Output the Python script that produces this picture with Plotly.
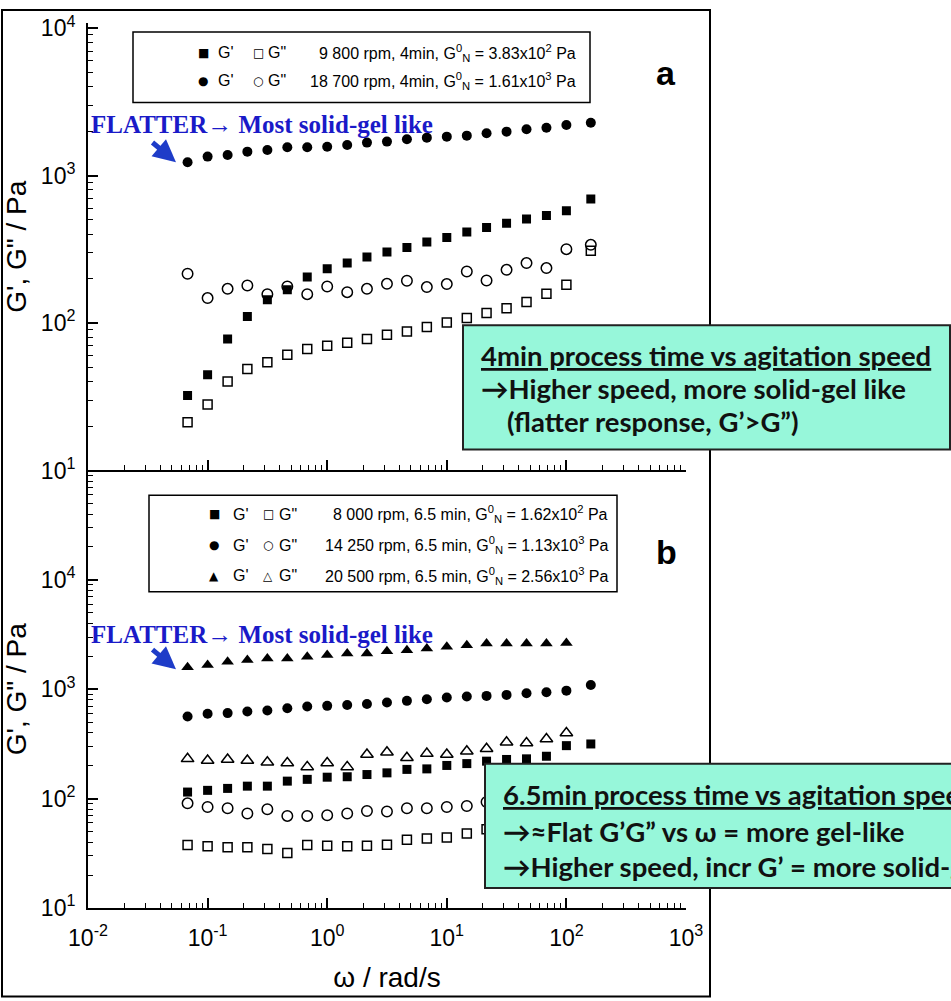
import plotly.graph_objects as go

# Angular frequency of the sweep (rad/s)
omega = [0.068, 0.1, 0.147, 0.215, 0.316, 0.464, 0.681, 1.0, 1.47, 2.15, 3.16,
         4.64, 6.81, 10.0, 14.7, 21.5, 31.6, 46.4, 68.1, 100.0, 160.0]

# (a) 4 min process time
a_9800_Gp = [32.3, 44.6, 77.9, 110.8, 143.9, 168, 205, 233, 255, 280, 303,
             325, 354, 380, 414, 444, 476, 507, 536, 577, 695]
a_9800_Gpp = [21.2, 28.0, 40.2, 48.8, 54.1, 61.0, 66.6, 70.2, 73.5, 77.9, 83.3,
              87.7, 94.0, 101, 108, 117, 126, 139, 158, 182, 309]
a_18700_Gp = [1233, 1345, 1381, 1454, 1493, 1557, 1557, 1571, 1614, 1674, 1700,
              1765, 1809, 1837, 1866, 1937, 1986, 2062, 2113, 2206, 2285]
a_18700_Gpp = [216, 147.6, 170.6, 179.7, 157, 177, 157, 177, 162, 170.6, 184.5,
               193.5, 175.4, 183.8, 223.7, 194.4, 229.6, 255, 235.8, 317, 339]

# (b) 6.5 min process time
b_8000_Gp = [114.8, 119, 124, 130, 130, 144.5, 150, 157, 158.5, 166, 172,
             185, 187, 201, 209, 220, 228, 231, 244, 305, 316]
b_8000_Gpp = [37.6, 36.6, 35.9, 35.9, 34.6, 31.8, 37.6, 37.1, 36.6, 37.1, 37.8,
              42.0, 43.3, 44.2, 48.1, 52.6]
b_14250_Gp = [564, 596, 605, 626, 639, 671, 695, 705, 719, 734, 755,
              783, 811, 839, 857, 869, 888, 920, 940, 971, 1094]
b_14250_Gpp = [90.6, 83.9, 81.6, 73.1, 79.9, 69.5, 69.5, 70.5, 73.1, 77.1, 76.2,
               81.6, 81.6, 83.9, 85.6, 93.1]
b_20500_Gp = [1585, 1663, 1782, 1846, 1914, 1914, 1979, 2051, 2125, 2125, 2228,
              2275, 2358, 2440, 2529, 2620, 2620, 2620, 2620, 2653]
b_20500_Gpp = [231, 223, 228, 223, 215, 212, 195, 212, 195, 253, 265,
               236, 258, 253, 271, 286, 327, 323, 351, 398]

x_ticks = [0.01, 0.1, 1, 10, 100, 1000]
x_ticktext = ["10<sup>-2</sup>", "10<sup>-1</sup>", "10<sup>0</sup>",
              "10<sup>1</sup>", "10<sup>2</sup>", "10<sup>3</sup>"]
y_ticks = [10, 100, 1000, 10000]
y_ticktext = ["10<sup>1</sup>", "10<sup>2</sup>", "10<sup>3</sup>", "10<sup>4</sup>"]

# pixel geometry of the plotting area
W, H = 951, 1001
L, R, T, B = 88, 686, 18, 908
SPLIT = 468


def px(x):
    return (x - L) / (R - L)


def py(y):
    return (B - y) / (B - T)


def minor_vals(lo, hi):
    vals = []
    for e in range(lo, hi):
        for m in range(2, 10):
            vals.append(m * 10 ** e)
    return vals


fig = go.Figure()

black = "black"


def add_series(x, y, symbol, size, xa, ya, filled=True):
    fig.add_trace(go.Scatter(
        x=x[:len(y)], y=y, mode="markers", xaxis=xa, yaxis=ya, showlegend=False,
        marker=dict(symbol=symbol if filled else symbol + "-open", size=size, color=black,
                    line=dict(color=black, width=0 if filled else 1.5)),
    ))


# panel (a)
add_series(omega, a_9800_Gp, "square", 9, "x", "y")
add_series(omega, a_9800_Gpp, "square", 9, "x", "y", filled=False)
add_series(omega, a_18700_Gp, "circle", 10, "x", "y")
add_series(omega, a_18700_Gpp, "circle", 10.5, "x", "y", filled=False)

# panel (b)
add_series(omega, b_8000_Gp, "square", 9, "x2", "y2")
add_series(omega, b_8000_Gpp, "square", 9, "x2", "y2", filled=False)
add_series(omega, b_14250_Gp, "circle", 10, "x2", "y2")
add_series(omega, b_14250_Gpp, "circle", 10.5, "x2", "y2", filled=False)
add_series(omega, b_20500_Gp, "triangle-up", 11, "x2", "y2")
add_series(omega, b_20500_Gpp, "triangle-up", 11, "x2", "y2", filled=False)

tick_font = dict(family="Liberation Sans, Arial", size=23, color=black)
title_font = dict(family="Liberation Sans, Arial", size=28, color=black)
axis_common = dict(
    type="log", showgrid=False, zeroline=False, showline=True, linecolor=black,
    linewidth=2, ticks="inside", ticklen=10, tickwidth=1.5, tickcolor=black,
    tickfont=tick_font, mirror=False,
)

split_frac = py(SPLIT)

fig.update_layout(
    width=W, height=H,
    margin=dict(l=L, r=W - R, t=T, b=H - B, pad=0),
    paper_bgcolor="white", plot_bgcolor="white",
    xaxis=dict(axis_common, anchor="y", domain=[0, 1], range=[-2, 3],
               tickmode="array", tickvals=x_ticks, showticklabels=False,
               minor=dict(tickvals=minor_vals(-2, 3), ticks="inside", ticklen=5,
                          tickwidth=1.2, tickcolor=black)),
    yaxis=dict(axis_common, anchor="x", domain=[split_frac, 1], range=[1, 4.035],
               tickmode="array", tickvals=y_ticks, ticktext=y_ticktext,
               ticklabelstandoff=6,
               minor=dict(tickvals=minor_vals(1, 4), ticks="inside", ticklen=5,
                          tickwidth=1.2, tickcolor=black),
               title=dict(text="G', G\" / Pa", standoff=6, font=title_font)),
    xaxis2=dict(axis_common, anchor="y2", domain=[0, 1], range=[-2, 3],
                tickmode="array", tickvals=x_ticks, ticktext=x_ticktext,
                ticklabelstandoff=8,
                minor=dict(tickvals=minor_vals(-2, 3), ticks="inside", ticklen=5,
                           tickwidth=1.2, tickcolor=black),
                title=dict(text="ω / rad/s", standoff=18, font=title_font)),
    yaxis2=dict(axis_common, anchor="x2", domain=[0, split_frac], range=[1, 5],
                tickmode="array", tickvals=y_ticks, ticktext=y_ticktext,
                ticklabelstandoff=6,
                minor=dict(tickvals=minor_vals(1, 5), ticks="inside", ticklen=5,
                           tickwidth=1.2, tickcolor=black),
                title=dict(text="G', G\" / Pa", standoff=6, font=title_font)),
)

shapes = []
annotations = []

# outer frame around both panels
shapes.append(dict(type="rect", xref="paper", yref="paper",
                   x0=px(2), x1=px(710), y0=py(997), y1=py(5),
                   line=dict(color=black, width=2), fillcolor="rgba(0,0,0,0)", layer="below"))

legend_font = dict(family="Liberation Sans, Arial", size=16, color=black)
glyph_font = dict(family="DejaVu Sans", size=12, color=black)


def legend_box(x0, x1, y0, y1):
    shapes.append(dict(type="rect", xref="paper", yref="paper",
                       x0=px(x0), x1=px(x1), y0=py(y1), y1=py(y0),
                       line=dict(color=black, width=1.5), fillcolor="white", layer="above"))


def legend_row(y, filled_sym, open_sym, xs, desc, desc_right):
    items = [(xs[0], filled_sym, glyph_font), (xs[1], "G'", legend_font),
             (xs[2], open_sym, glyph_font), (xs[3], "G\"", legend_font)]
    for x, t, f in items:
        annotations.append(dict(x=px(x), y=py(y), xref="paper", yref="paper",
                                text=t, showarrow=False, xanchor="center", yanchor="middle",
                                font=f))
    annotations.append(dict(x=px(desc_right), y=py(y), xref="paper", yref="paper",
                            text=desc, showarrow=False, xanchor="right", yanchor="middle",
                            font=legend_font))


GN = "G<sup>0</sup><sub>N</sub>"

legend_box(133, 590, 27, 98)
legend_row(48, "■", "□", [203, 226, 258, 277],
           "9 800 rpm, 4min, " + GN + " = 3.83x10<sup>2</sup> Pa", 578)
legend_row(76, "●", "○", [203, 226, 258, 277],
           "18 700 rpm, 4min, " + GN + " = 1.61x10<sup>3</sup> Pa", 578)

legend_box(149, 617, 493, 590)
legend_row(512, "■", "□", [214, 241, 268, 288],
           "8 000 rpm, 6.5 min, " + GN + " = 1.62x10<sup>2</sup> Pa", 610)
legend_row(543, "●", "○", [214, 241, 268, 288],
           "14 250 rpm, 6.5 min, " + GN + " = 1.13x10<sup>3</sup> Pa", 610)
legend_row(574, "▲", "△", [214, 241, 268, 288],
           "20 500 rpm, 6.5 min, " + GN + " = 2.56x10<sup>3</sup> Pa", 610)

# panel letters
for letter, y in (("a", 68), ("b", 550)):
    annotations.append(dict(x=px(666), y=py(y), xref="paper", yref="paper", text="<b>" + letter + "</b>",
                            showarrow=False, xanchor="center", yanchor="middle",
                            font=dict(family="Liberation Sans, Arial", size=34, color=black)))

# blue call-outs
blue = "#1a1ac8"
for y_txt, head, tail in ((120, (176, 158), (151, 137)), (633, (176, 668), (151, 647))):
    annotations.append(dict(x=px(89), y=py(y_txt), xref="paper", yref="paper",
                            text="<b>FLATTER→ Most solid-gel like</b>", showarrow=False,
                            xanchor="left", yanchor="middle",
                            font=dict(family="Liberation Serif, Times New Roman", size=25, color=blue)))
    annotations.append(dict(x=px(head[0]), y=py(head[1]), xref="paper", yref="paper", text="",
                            showarrow=True, arrowhead=2, arrowsize=0.9, arrowwidth=5,
                            arrowcolor="#1e3cc8", ax=tail[0] - head[0], ay=tail[1] - head[1],
                            standoff=0))

# summary boxes
aqua = "#97f7da"
box_font = dict(family="Lato, Open Sans", size=27.5, color="#111111")


def text_box(x0, x1, y0, y1, lines, tx):
    shapes.append(dict(type="rect", xref="paper", yref="paper",
                       x0=px(x0), x1=px(x1), y0=py(y1), y1=py(y0),
                       line=dict(color="#222222", width=2), fillcolor=aqua, layer="above"))
    for (txt, y, dx) in lines:
        annotations.append(dict(x=px(tx + dx), y=py(y), xref="paper", yref="paper",
                                text=txt, showarrow=False, xanchor="left", yanchor="middle",
                                font=box_font))


text_box(463, 950, 322, 447, [
    ("<b><u>4min process time vs agitation speed</u></b>", 352, 0),
    ("<b>→Higher speed, more solid-gel like</b>", 386, 0),
    ("<b>(flatter response, G’>G”)</b>", 419, 26),
], 479)

text_box(485, 990, 763, 888, [
    ("<b><u>6.5min process time vs agitation speed</u></b>", 794, 0),
    ("<b>→≈Flat G’G” vs ω = more gel-like</b>", 831, 0),
    ("<b>→Higher speed, incr G’ = more solid-gel like</b>", 866, 0),
], 501)

fig.update_layout(shapes=shapes, annotations=annotations)

fig.write_html("out.html")
